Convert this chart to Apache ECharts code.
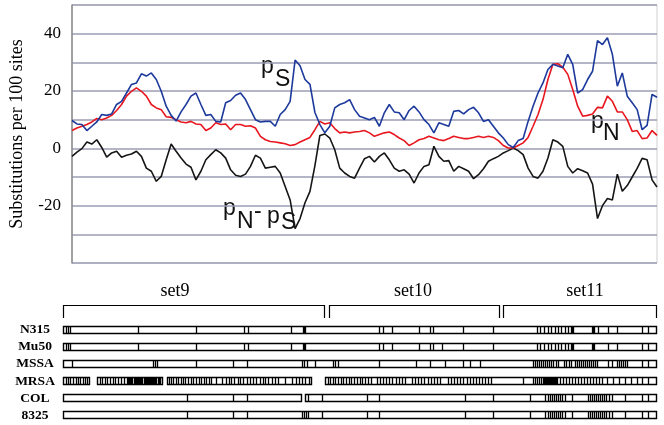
<!DOCTYPE html>
<html><head><meta charset="utf-8">
<script src="https://cdn.jsdelivr.net/npm/echarts@6/dist/echarts.min.js"></script>
<style>html,body{margin:0;padding:0;background:#fff}#c{width:664px;height:425px}</style>
</head><body><div id="c"></div>
<script>
// ---- sliding-window substitution curves (window index along the alignment) ----
const pS = [9.7, 8.5, 8.3, 6.2, 7.7, 9.2, 11.8, 11.5, 12, 15.3, 16.4, 19.3, 22.3, 22.8, 26, 25.2, 26.3, 24, 19.9, 14.7,
 11.5, 9.5, 12.7, 15.3, 18.2, 19.3, 15.3, 11.5, 11.8, 9.4, 9.2, 15.9, 16.7, 18.5, 19.3, 17, 13.5, 10, 9.2,
 9.4, 9.4, 7.7, 11.8, 13.5, 16.4, 30.8, 28.8, 24, 22.3, 12.5, 8.3, 5.4, 7.7, 14.1, 15.3, 15.9, 17, 13.5, 11.2,
 10.6, 10, 10.8, 7.7, 12.4, 15.3, 12.7, 12.4, 10, 13.2, 14.7, 12.7, 10, 8.3, 5.4, 8.9, 8.3, 7.7, 12.9,
 13.2, 12, 13.5, 14.3, 12.4, 9.4, 10, 7.7, 5.4, 3.6, 1.3, 0.3, 2.7, 3.4, 9.4, 14.7, 19.3, 22.8, 27.5, 29.3,
 28.7, 28.1, 32.8, 29.3, 19.3, 20.5, 24, 26.9, 37.6, 36.2, 38.6, 32.8, 21.7, 26.3, 18.2, 15.9, 13.5, 6.5, 8, 18.8, 17.8];
const pN = [6.2, 7.1, 7.7, 8.3, 9.2, 10.4, 10, 10.6, 11.5, 13.2, 15.3, 18.2, 19.9, 21.1, 19.9, 18.2, 15.3, 14.1, 13.5, 11,
 10.8, 10, 9.2, 8.9, 9.4, 8.5, 8.3, 6.2, 7.1, 8.9, 8.3, 8.5, 6.5, 8.3, 8.3, 7.7, 7.9, 7.1, 4.2,
 3, 2.4, 2.2, 1.9, 1.6, 1, 1.3, 2.2, 3, 3.8, 6.5, 9.4, 8.5, 8.9, 6.9, 5.4, 5.7, 5.4, 5.7, 5.9,
 6.2, 5.4, 4.2, 4.8, 5.4, 5.7, 4.8, 3.6, 2.7, 1, 1.9, 3, 3.4, 4.2, 3.6, 3, 2.7, 3.4, 4.2,
 3.8, 3.4, 3.4, 3.8, 4.2, 3.8, 4.2, 3.8, 2.7, 1, 0.1, 0.1, 1, 1.9, 3.8, 7.7, 11.8, 17, 24, 29.3,
 29.5, 28.3, 25.8, 20.5, 14.7, 11.2, 11.5, 12, 14.3, 14.1, 18.2, 16.4, 12.7, 12.7, 10, 5.9, 6.2, 3.4, 3.6, 6.2, 4.5];
const pNminusPS = [-2.8, -1.3, -0.1, 2.2, 1.5, 3, 0.3, -3.1, -1.6, -1, -3.1, -2.4, -2, -1, -2.8, -6.9, -8, -11.5, -9.8, -4,
 1.5, -1, -3.4, -5.5, -6.6, -11, -8, -4, -2.2, -0.5, -1.6, -3.4, -7.5, -9.4, -9.8, -9, -6.3, -2.4, -3.4,
 -6.9, -6.6, -6.3, -8.6, -13.3, -18, -28, -24.5, -19, -15, -6, 4.5, 5, 3.6, -0.5, -6.9, -8.6, -9.8, -10.4, -6.9,
 -3.6, -2.8, -4.8, -2.8, -1.6, -4, -6.9, -8, -7.5, -9, -12.1, -8.6, -6.3, -5.7, 0.7, -2.8, -4.5, -4.3, -8,
 -6.3, -7.1, -8, -10.6, -9.2, -7.1, -4.5, -3.6, -2.8, -1.6, -0.8, 0.1, -0.8, -2.2, -6.9, -9.8, -10.4, -8, -3.4, 3,
 2.2, 0.7, -6.3, -8.6, -7.1, -7.8, -8.6, -12.5, -24.5, -20, -17.5, -18, -9, -15, -13, -10, -7, -3.5, -4, -11, -13.5];
const yTickLabels = [40, 20, 0, -20];

// ---- alignment map: sets, strains, aligned segments and polymorphic sites ----
const setNames = ['set9', 'set10', 'set11'];
const setRanges = [[0, 261], [266, 436], [440, 593]];
const setLabelPos = [112, 350, 522];
const strains = ['N315', 'Mu50', 'MSSA', 'MRSA', 'COL', '8325'];
const segN315 = [[0, 594]];
const segMu50 = [[0, 594]];
const segMSSA = [[0, 594]];
const segMRSA = [[0, 27], [34, 100], [104, 249], [262, 594]];
const segCOL = [[0, 239], [242, 594]];
const seg8325 = [[0, 594]];
const sitesN315 = [3, 5, 7, 75, 133, 181, 185, 228, 240, 241, 242, 316, 320, 329, 356, 367, 370, 400, 430, 474, 477, 481, 485, 488, 492, 495, 498, 502, 505, 508, 509, 510, 529, 530, 531, 535, 545, 554, 579, 585];
const sitesMu50 = [3, 5, 7, 75, 133, 181, 185, 228, 240, 241, 242, 316, 320, 329, 356, 367, 370, 379, 400, 430, 474, 477, 481, 485, 488, 492, 495, 498, 502, 505, 508, 509, 510, 529, 530, 531, 545, 554, 579, 585];
const sitesMSSA = [9, 90, 92, 94, 133, 170, 184, 239, 241, 244, 252, 270, 272, 275, 316, 353, 367, 382, 400, 407, 417, 470, 472, 474, 476, 478, 480, 482, 484, 486, 488, 490, 493, 495, 501, 503, 506, 508, 512, 514, 516, 518, 520, 522, 524, 526, 528, 530, 532, 534, 545, 549, 554, 556, 558, 560, 562, 564, 579, 585];
const sitesMRSA = [3, 5, 7, 10, 13, 15, 17, 20, 22, 24,
 37, 39, 42, 44, 47, 50, 52, 55, 58, 61, 64, 65, 66, 67, 68, 69, 71, 72, 73, 74, 75, 76, 77, 78, 79, 81, 82, 83, 84, 85, 86, 87, 88, 89, 90, 91, 92, 93, 95, 96, 97,
 106, 108, 110, 113, 115, 118, 120, 122, 125, 128, 130, 133, 136, 138, 141, 143, 146, 148, 153, 159, 163, 166, 168, 171, 175, 177, 180, 184, 187, 190, 193, 197, 200, 202, 205, 209, 212, 215, 222, 229, 233, 236, 239, 242, 246,
 265, 267, 270, 272, 275, 278, 280, 283, 286, 288, 291, 294, 297, 299, 302, 305, 308, 314, 317, 320, 323, 326, 329, 333, 336, 339, 342, 349, 352, 355, 358, 361, 365, 368, 371, 374, 377, 385, 388, 391, 394, 397, 400, 404, 407, 410, 413, 416, 419, 422, 425, 428,
 460, 470, 472, 474, 476, 478, 480, 481, 482, 483, 484, 485, 486, 487, 488, 489, 490, 491, 492, 493, 494, 497, 500, 503, 506, 509, 512, 515, 518, 521, 524, 527, 530, 533, 536, 539, 544, 550, 556, 562, 568, 574, 579, 585];
const sitesCOL = [124, 170, 184, 245, 259, 304, 316, 402, 430, 467, 482, 485, 487, 489, 491, 493, 495, 497, 499, 502, 509, 525, 527, 529, 531, 533, 535, 537, 539, 541, 543, 546, 549, 562, 579, 585];
const sites8325 = [124, 170, 184, 239, 241, 243, 245, 259, 304, 316, 402, 430, 467, 482, 485, 487, 489, 491, 493, 495, 497, 499, 502, 509, 525, 527, 529, 531, 533, 535, 537, 539, 541, 543, 546, 549, 562, 579, 585];

const segByStrain = [segN315, segMu50, segMSSA, segMRSA, segCOL, seg8325];
const sitesByStrain = [sitesN315, sitesMu50, sitesMSSA, sitesMRSA, sitesCOL, sites8325];

const segData = [];
segByStrain.forEach((list, r) => list.forEach(s => segData.push([s[0], s[1], r])));
const siteData = [];
sitesByStrain.forEach((list, r) => list.forEach(p => siteData.push([p, r])));
const setData = setRanges.map((r, i) => [r[0], r[1], setLabelPos[i]]);

const SERIF = '"Liberation Serif", "Times New Roman", serif';
const SANS = '"Liberation Sans", Arial, sans-serif';
const BAR_H = 8;

function renderSegment(params, api) {
  const a = api.coord([api.value(0), api.value(2)]);
  const b = api.coord([api.value(1), api.value(2)]);
  const x0 = Math.round(a[0]) + 0.5, x1 = Math.round(b[0]) - 0.5;
  const y0 = Math.round(a[1] - BAR_H / 2) + 0.5;
  return { type: 'rect', shape: { x: x0, y: y0, width: x1 - x0, height: BAR_H - 1 },
    style: { fill: '#fff', stroke: '#000', lineWidth: 1.4 } };
}
function renderSite(params, api) {
  const p = api.coord([api.value(0), api.value(1)]);
  const x = Math.round(p[0]) + 0.5, y0 = Math.round(p[1] - BAR_H / 2);
  return { type: 'line', shape: { x1: x, y1: y0, x2: x, y2: y0 + BAR_H },
    style: { stroke: '#000', lineWidth: 1.3 } };
}
function renderSet(params, api) {
  const cs = params.coordSys;
  const a = api.coord([api.value(0), 0]), b = api.coord([api.value(1), 0]), l = api.coord([api.value(2), 0]);
  const yl = cs.y - 16 + 0.5;
  const x0 = Math.round(a[0]) + 0.5, x1 = Math.round(b[0]) + 0.5;
  return { type: 'group', children: [
    { type: 'polyline', shape: { points: [[x0, cs.y - 3], [x0, yl], [x1, yl], [x1, cs.y - 3]] },
      style: { stroke: '#000', fill: null, lineWidth: 1.2 } },
    { type: 'text', x: l[0], y: cs.y - 30,
      style: { text: setNames[params.dataIndex], fill: '#000', font: '18px ' + SERIF, align: 'center', verticalAlign: 'middle' } }
  ] };
}
function txt(t, x, y) {
  return { type: 'text', x: x, y: y, style: { text: t, fill: '#111', font: '23px ' + SANS, align: 'left', verticalAlign: 'middle' } };
}

const chart = echarts.init(document.getElementById('c'), null, { renderer: 'canvas' });
chart.setOption({
  animation: false,
  backgroundColor: '#fff',
  grid: [
    { left: 66, right: 7, top: 5, bottom: 162, show: true, borderColor: '#cfcfcf', borderWidth: 1 },
    { left: 63, right: 7, top: 321, height: 103 }
  ],
  xAxis: [
    { gridIndex: 0, type: 'value', min: 0, max: pS.length - 1, show: false },
    { gridIndex: 1, type: 'value', min: 0, max: 594, show: false }
  ],
  yAxis: [
    { gridIndex: 0, type: 'value', min: -40, max: 50, interval: 10,
      axisLine: { show: true, lineStyle: { color: '#8a8a8a', width: 1.5 } },
      axisTick: { show: false },
      axisLabel: { margin: 11, color: '#000', fontFamily: SERIF, fontSize: 17,
        formatter: v => yTickLabels.indexOf(v) >= 0 ? String(v) : '' },
      splitLine: { lineStyle: { color: '#9c9cb6', width: 1.5 } },
      name: 'Substitutions per 100 sites', nameLocation: 'middle', nameGap: 46,
      nameTextStyle: { color: '#000', fontFamily: SERIF, fontSize: 18 } },
    { gridIndex: 1, type: 'category', data: strains, inverse: true,
      axisLine: { show: false }, axisTick: { show: false }, splitLine: { show: false },
      axisLabel: { interval: 0, hideOverlap: false, align: 'center', margin: 28, color: '#000', fontFamily: SERIF, fontWeight: 'bold', fontSize: 13.5 } }
  ],
  graphic: [
    txt('p', 261, 67), txt('S', 275, 80),
    txt('p', 223, 209), txt('N', 237, 222), txt('-', 254, 212), txt('p', 267, 217), txt('S', 281, 223),
    txt('p', 591, 122), txt('N', 603, 134)
  ],
  series: [
    { type: 'line', name: 'pN - pS', xAxisIndex: 0, yAxisIndex: 0, data: pNminusPS.map((v, i) => [i, v]),
      showSymbol: false, silent: true, lineStyle: { color: '#151515', width: 1.6 } },
    { type: 'line', name: 'pN', xAxisIndex: 0, yAxisIndex: 0, data: pN.map((v, i) => [i, v]),
      showSymbol: false, silent: true, lineStyle: { color: '#e8161f', width: 1.6 } },
    { type: 'line', name: 'pS', xAxisIndex: 0, yAxisIndex: 0, data: pS.map((v, i) => [i, v]),
      showSymbol: false, silent: true, lineStyle: { color: '#1c399b', width: 1.6 } },
    { type: 'custom', name: 'sets', xAxisIndex: 1, yAxisIndex: 1, data: setData, renderItem: renderSet,
      encode: { x: [0, 1, 2] }, silent: true },
    { type: 'custom', name: 'segments', xAxisIndex: 1, yAxisIndex: 1, data: segData, renderItem: renderSegment,
      encode: { x: [0, 1], y: 2 }, silent: true, z: 2 },
    { type: 'custom', name: 'sites', xAxisIndex: 1, yAxisIndex: 1, data: siteData, renderItem: renderSite,
      encode: { x: 0, y: 1 }, silent: true, z: 3 }
  ]
});
</script>
</body></html>
